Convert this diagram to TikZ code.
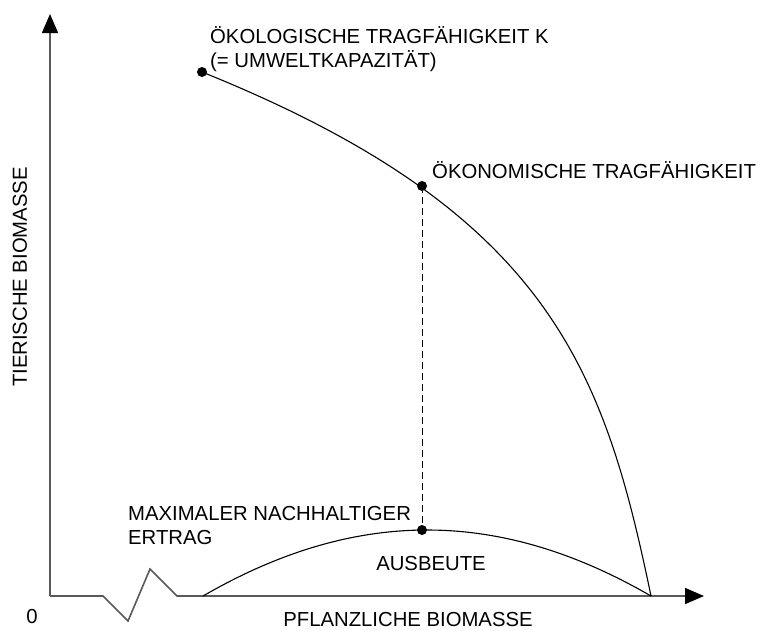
\documentclass[tikz,border=0pt]{standalone}
\usepackage{fontspec}
\setmainfont{Liberation Sans}
\usetikzlibrary{arrows.meta}
\definecolor{axisgray}{rgb}{0.35,0.35,0.35}
\begin{document}
\begin{tikzpicture}[x=1pt,y=-1pt,
  axisline/.style={draw=axisgray,line width=1.6pt},
  curveline/.style={draw=black,line width=1.1pt},
  dotnode/.style={circle,fill=black,inner sep=0pt,minimum size=10pt},
  lbl/.style={inner sep=0pt,font=\fontsize{20.3}{24}\selectfont,text=black},
  tip/.style={-{Triangle[length=19pt,width=16pt,color=black]}}
]
\useasboundingbox (0,0) rectangle (762,630);
% axes
\coordinate (O) at (50,596);
\coordinate (Ytop) at (50,14);
\coordinate (Z1) at (103,596);
\coordinate (Z2) at (128,621);
\coordinate (Z3) at (150,569);
\coordinate (Z4) at (177,596);
\coordinate (Xend) at (704,596);
\draw[axisline,tip] (O) -- (Ytop);
\draw[axisline,tip] (O) -- (Z1) -- (Z2) -- (Z3) -- (Z4) -- (Xend);
% points
\node[dotnode] (K) at (202,72) {};
\node[dotnode] (E) at (422,186) {};
\node[dotnode] (M) at (422,530) {};
\coordinate (L) at (203,596);
\coordinate (R) at (651,596);
% curves
\draw[curveline] (K.center) .. controls (550,212) and (604,370) .. (R);
\draw[curveline] (L) .. controls (355,508) and (499,508) .. (R);
\draw[line width=1pt,dash pattern=on 7pt off 4pt] (E.center) -- (M.center);
% labels
\node[lbl,anchor=base west] (t1) at (210,43) {ÖKOLOGISCHE TRAGFÄHIGKEIT K};
\node[lbl,anchor=base west] (t2) at (210,67) {(= UMWELTKAPAZITÄT)};
\node[lbl,anchor=base west] (t3) at (432,178) {ÖKONOMISCHE TRAGFÄHIGKEIT};
\node[lbl,anchor=base west] (t4) at (128,520) {MAXIMALER NACHHALTIGER};
\node[lbl,anchor=base west] (t5) at (128,544) {ERTRAG};
\node[lbl,anchor=base] (t6) at (431,570) {AUSBEUTE};
\node[lbl,anchor=base] (t7) at (408,626) {PFLANZLICHE BIOMASSE};
\node[lbl,anchor=base] (t8) at (32,623) {0};
\node[lbl,anchor=base,rotate=90] (t9) at (27,277) {TIERISCHE BIOMASSE};
\end{tikzpicture}
\end{document}
